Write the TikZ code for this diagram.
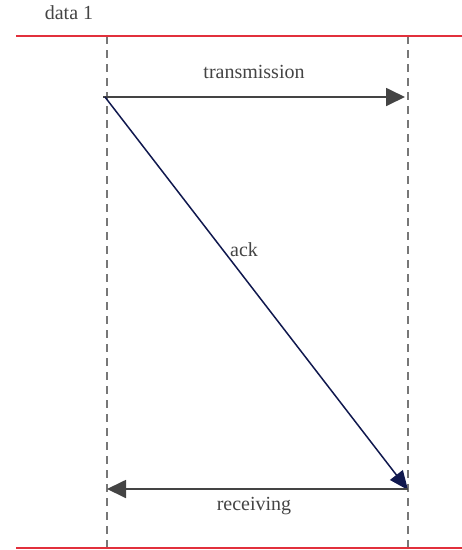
\documentclass[tikz,border=0pt]{standalone}
\usepackage{fontspec}
\setmainfont{Liberation Serif}
\usetikzlibrary{arrows.meta}
\definecolor{redline}{HTML}{E2303C}
\definecolor{lifegray}{HTML}{777777}
\definecolor{arrowgray}{HTML}{444444}
\definecolor{navy}{HTML}{10184E}
\definecolor{textgray}{HTML}{444444}
\tikzset{
  boundary/.style={draw=redline, line width=1.2pt},
  lifeline/.style={draw=lifegray, line width=1.5pt, dash pattern=on 8pt off 6pt},
  msg/.style={draw=arrowgray, line width=1.8pt, -{Triangle[length=19pt,width=18pt]}},
  ackmsg/.style={draw=navy, line width=1.5pt, -{Triangle[length=19pt,width=16pt]}},
  lbl/.style={text=textgray, font=\fontsize{20}{24}\selectfont, inner sep=0pt}
}
\begin{document}
\begin{tikzpicture}[x=1pt,y=-1pt]
\useasboundingbox (0,0) rectangle (462,550);
% coordinates
\coordinate (topL) at (16,36);
\coordinate (topR) at (462,36);
\coordinate (botL) at (16,548);
\coordinate (botR) at (462,548);
\coordinate (l1t) at (107,36);
\coordinate (l1b) at (107,548);
\coordinate (l2t) at (408,36);
\coordinate (l2b) at (408,548);
\coordinate (tS) at (103,97);
\coordinate (tE) at (405,97);
\coordinate (aS) at (105,97);
\coordinate (aE) at (408,490);
\coordinate (rS) at (408,489);
\coordinate (rE) at (107,489);
% lines
\draw[lifeline] (l1t) -- (l1b);
\draw[lifeline] (l2t) -- (l2b);
\draw[boundary] (topL) -- (topR);
\draw[boundary] (botL) -- (botR);
% messages
\draw[msg] (tS) -- (tE);
\draw[ackmsg] (aS) -- (aE);
\draw[msg] (rS) -- (rE);
% labels
\node[lbl] (data) at (69,13) {data 1};
\node[lbl] (trans) at (254,72) {transmission};
\node[lbl] (ack) at (244,250) {ack};
\node[lbl] (recv) at (254,506) {receiving};
\end{tikzpicture}
\end{document}
